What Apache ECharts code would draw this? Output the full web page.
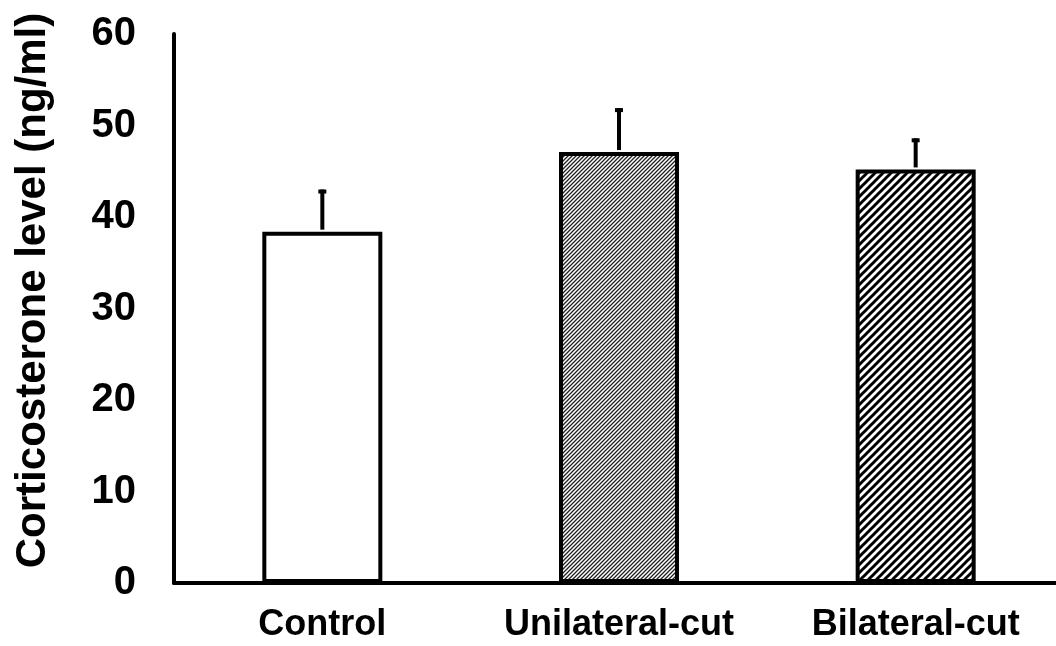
<!DOCTYPE html>
<html>
<head>
<meta charset="utf-8">
<script src="https://cdn.jsdelivr.net/npm/echarts@6/dist/echarts.min.js"></script>
<style>
  html, body { margin: 0; padding: 0; background: #fff; overflow: hidden; }
  /* the x axis runs a little past the right edge of the page */
  #chart { width: 1064px; height: 646px; }
</style>
</head>
<body>
<div id="chart"></div>
<script>
// Group names, mean corticosterone levels and their standard errors
const categories = ['Control', 'Unilateral-cut', 'Bilateral-cut'];
const means = [38.4, 47.1, 45.2];
const errors = [4.6, 4.8, 3.4];
const yTicks = [0, 10, 20, 30, 40, 50, 60];

const FONT = '"Liberation Sans", Arial, Helvetica, sans-serif';

// Diagonal hatch tile: lines running from lower-left to upper-right
function hatch(size, lineWidth, color) {
  const c = document.createElement('canvas');
  c.width = size; c.height = size;
  const ctx = c.getContext('2d');
  ctx.fillStyle = '#fff';
  ctx.fillRect(0, 0, size, size);
  ctx.strokeStyle = color;
  ctx.lineWidth = lineWidth;
  ctx.lineCap = 'square';
  for (const off of [-size, 0, size]) {
    ctx.beginPath();
    ctx.moveTo(off, size);
    ctx.lineTo(off + size, 0);
    ctx.stroke();
  }
  return c;
}

const fills = [
  '#ffffff',
  { image: hatch(4, 1.3, '#222'), repeat: 'repeat' },
  { image: hatch(8, 3.0, '#000'), repeat: 'repeat' }
];

const chart = echarts.init(document.getElementById('chart'), null, { renderer: 'canvas' });

chart.setOption({
  animation: false,
  backgroundColor: '#fff',
  grid: { left: 174, right: 0, top: 34, bottom: 63, containLabel: false },
  xAxis: {
    type: 'category',
    data: categories,
    axisLine: { lineStyle: { color: '#000', width: 4 } },
    axisTick: { show: false },
    axisLabel: {
      color: '#000', fontFamily: FONT, fontWeight: 'bold', fontSize: 36,
      margin: 24, interval: 0
    }
  },
  yAxis: {
    type: 'value',
    min: yTicks[0],
    max: yTicks[yTicks.length - 1],
    interval: 10,
    axisLine: { show: true, lineStyle: { color: '#000', width: 4 } },
    axisTick: { show: false },
    splitLine: { show: false },
    axisLabel: {
      color: '#000', fontFamily: FONT, fontWeight: 'bold', fontSize: 40,
      margin: 38
    },
    name: 'Corticosterone level (ng/ml)',
    nameLocation: 'middle',
    nameGap: 120,
    nameTextStyle: {
      color: '#000', fontFamily: FONT, fontWeight: 'bold', fontSize: 42,
      padding: [0, 0, 0, 36]
    }
  },
  series: [
    {
      type: 'bar',
      barWidth: 120,
      data: means.map((v, i) => ({
        value: v,
        itemStyle: { color: fills[i], borderColor: '#000', borderWidth: 4 }
      }))
    },
    {
      // upward error bars with a short cap
      type: 'custom',
      z: 5,
      data: means.map((v, i) => [i, v, v + errors[i]]),
      renderItem: function (params, api) {
        const x = api.value(0);
        const base = api.coord([x, api.value(1)]);
        const top = api.coord([x, api.value(2)]);
        return {
          type: 'group',
          children: [
            {
              type: 'line',
              shape: { x1: base[0], y1: base[1] - 2, x2: top[0], y2: top[1] },
              style: { stroke: '#000', lineWidth: 4 }
            },
            {
              type: 'line',
              shape: { x1: top[0] - 4, y1: top[1] + 2, x2: top[0] + 4, y2: top[1] + 2 },
              style: { stroke: '#000', lineWidth: 4 }
            }
          ]
        };
      }
    }
  ]
});
</script>
</body>
</html>
